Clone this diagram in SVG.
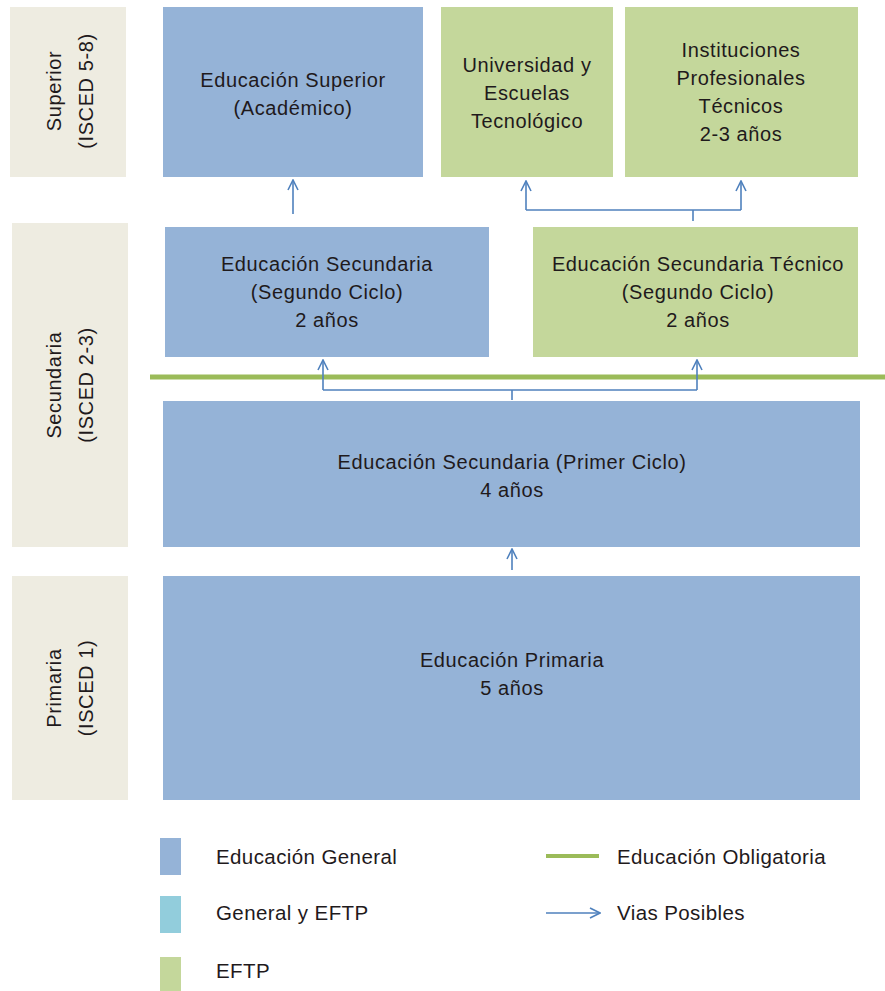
<svg xmlns="http://www.w3.org/2000/svg" width="885" height="991" viewBox="0 0 885 991">
<style>
text{font-family:"Liberation Sans",Arial,sans-serif;font-size:20px;letter-spacing:0.6px;fill:#1f1a1c;text-anchor:middle}
.lvl{fill:#EEECE1}
.gen{fill:#95B3D7}
.tec{fill:#C4D79B}
.mix{fill:#92CDDC}
.lg{text-anchor:start;font-size:20.5px;letter-spacing:0.4px}
.c{fill:none;stroke:#4F81BD;stroke-width:1.6}
</style>
<defs>
<marker id="ah" viewBox="0 0 12 12" refX="11" refY="6" markerWidth="12" markerHeight="12" markerUnits="userSpaceOnUse" orient="auto">
<path d="M1,1 L11,6 L1,11" fill="none" stroke="#4F81BD" stroke-width="1.6"/>
</marker>
</defs>
<rect width="885" height="991" fill="#ffffff"/>
<g id="lvl-superior">
<rect class="lvl" x="10" y="7" width="116" height="170"/>
<text transform="translate(61,91) rotate(-90)">Superior</text>
<text transform="translate(93,91) rotate(-90)">(ISCED 5-8)</text>
</g>
<g id="lvl-secundaria">
<rect class="lvl" x="12" y="223" width="116" height="324"/>
<text transform="translate(61,385) rotate(-90)">Secundaria</text>
<text transform="translate(93,385) rotate(-90)">(ISCED 2-3)</text>
</g>
<g id="lvl-primaria">
<rect class="lvl" x="12" y="576" width="116" height="224"/>
<text transform="translate(61,688) rotate(-90)">Primaria</text>
<text transform="translate(93,688) rotate(-90)">(ISCED 1)</text>
</g>
<g id="sup-academico">
<rect class="gen" x="163" y="7" width="260" height="170"/>
<text x="293" y="87">Educación Superior</text>
<text x="293" y="115">(Académico)</text>
</g>
<g id="universidad">
<rect class="tec" x="441" y="7" width="172" height="170"/>
<text x="527" y="72">Universidad y</text>
<text x="527" y="100">Escuelas</text>
<text x="527" y="128">Tecnológico</text>
</g>
<g id="instituciones">
<rect class="tec" x="625" y="7" width="233" height="170"/>
<text x="741" y="57">Instituciones</text>
<text x="741" y="85">Profesionales</text>
<text x="741" y="113">Técnicos</text>
<text x="741" y="141">2-3 años</text>
</g>
<g id="sec-segundo">
<rect class="gen" x="165" y="227" width="324" height="130"/>
<text x="327" y="271">Educación Secundaria</text>
<text x="327" y="299">(Segundo Ciclo)</text>
<text x="327" y="327">2 años</text>
</g>
<g id="sec-tecnico">
<rect class="tec" x="533" y="227" width="325" height="130"/>
<text x="698" y="271">Educación Secundaria Técnico</text>
<text x="698" y="299">(Segundo Ciclo)</text>
<text x="698" y="327">2 años</text>
</g>
<g id="sec-primer">
<rect class="gen" x="163" y="401" width="697" height="146"/>
<text x="512" y="469">Educación Secundaria (Primer Ciclo)</text>
<text x="512" y="497">4 años</text>
</g>
<g id="primaria">
<rect class="gen" x="163" y="576" width="697" height="224"/>
<text x="512" y="667">Educación Primaria</text>
<text x="512" y="695">5 años</text>
</g>
<g id="obligatoria">
<line x1="150" y1="377" x2="885" y2="377" stroke="#9BBB59" stroke-width="5"/>
</g>
<g id="connectors">
<line class="c" x1="293" y1="214" x2="293" y2="180" marker-end="url(#ah)"/>
<path class="c" d="M693,221 V210"/>
<path class="c" d="M526,210 H741"/>
<line class="c" x1="526" y1="210" x2="526" y2="181" marker-end="url(#ah)"/>
<line class="c" x1="741" y1="210" x2="741" y2="181" marker-end="url(#ah)"/>
<path class="c" d="M512,400 V390"/>
<path class="c" d="M323,390 H697"/>
<line class="c" x1="323" y1="390" x2="323" y2="360" marker-end="url(#ah)"/>
<line class="c" x1="697" y1="390" x2="697" y2="360" marker-end="url(#ah)"/>
<line class="c" x1="512" y1="570" x2="512" y2="549" marker-end="url(#ah)"/>
</g>
<g id="legend">
<rect class="gen" x="160" y="838" width="21" height="37"/>
<text class="lg" x="216" y="864">Educación General</text>
<rect class="mix" x="160" y="896" width="21" height="37"/>
<text class="lg" x="216" y="920">General y EFTP</text>
<rect class="tec" x="160" y="957" width="21" height="34"/>
<text class="lg" x="216" y="978">EFTP</text>
<line x1="546" y1="856" x2="599" y2="856" stroke="#9BBB59" stroke-width="4"/>
<text class="lg" x="617" y="864">Educación Obligatoria</text>
<line class="c" x1="546" y1="913" x2="600" y2="913" marker-end="url(#ah)"/>
<text class="lg" x="617" y="920">Vias Posibles</text>
</g>
</svg>
